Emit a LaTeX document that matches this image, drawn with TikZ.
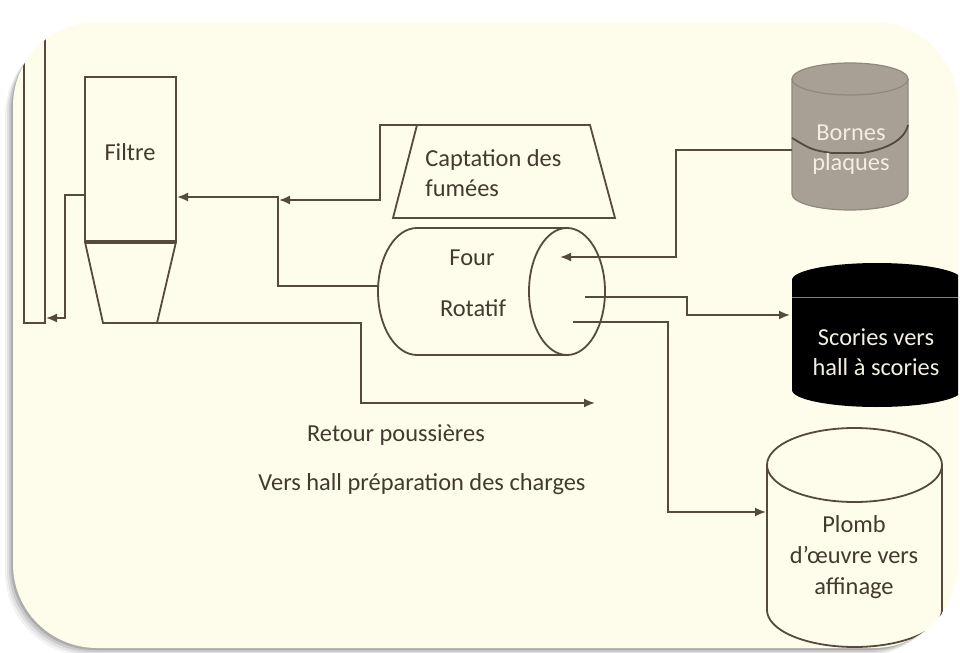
\documentclass[tikz,border=0pt]{standalone}
\usepackage{fontspec}
\setmainfont{Carlito}
\usetikzlibrary{arrows.meta}
\definecolor{c0}{RGB}{254,252,234}
\definecolor{c1}{RGB}{84,74,62}
\definecolor{c2}{RGB}{66,58,48}
\definecolor{c3}{RGB}{168,160,148}
\definecolor{c4}{RGB}{242,238,226}
\tikzset{%
  flow/.style={draw=c1,line width=0.9pt},
  arrow/.style={flow,-{Latex[length=5.5pt,width=4.5pt]}},
  txt/.style={text=c2,font=\fontsize{12.2}{15}\selectfont,inner sep=0pt,align=center}
}

\begin{document}
\begin{tikzpicture}[x=0.5pt,y=-0.5pt]
  \useasboundingbox (0,0) rectangle (960,653);
  % card
  \foreach \d/\o in {8/0.05,6/0.07,4/0.1,2/0.14}
    \fill[black,opacity=\o,rounded corners=42pt] ({13-\d},{24+\d}) rectangle ({956-\d},{648+\d});
  \fill[c0,rounded corners=42pt] (13,22) rectangle (958,648);
  \begin{scope}
  \clip[rounded corners=42pt] (13,22) rectangle (958,648);
  % cheminee
  \draw[flow] (24,30) -- (24,323) -- (45,323) -- (45,38);
  % filtre
  \draw[flow] (85,77) rectangle (176,242);
  \draw[flow] (85,242) -- (103,323) -- (157,323) -- (176,242);
  \draw[c1,line width=1.6pt] (85,242) -- (176,242);
  \node[txt] (filtre) at (130,152) {Filtre};
  \coordinate (filtre-w) at (85,195);
  \coordinate (filtre-e) at (177,197);
  \coordinate (chem-e) at (46,318);
  \coordinate (tremie-s) at (157,323);
  % captation
  \draw[flow,fill=c0] (417,125) -- (590,125) -- (615,218) -- (393,218) -- cycle;
  \node[txt,anchor=west,align=left] (capt) at (425,173) {Captation des\\fumées};
  \coordinate (capt-nw) at (417,125);
  \coordinate (capt-in) at (279,200);
  % four
  \draw[flow,fill=c0] (567,228) -- (417,228) arc[start angle=270,end angle=90,x radius=39,y radius=63.5] -- (567,355);
  \draw[flow,fill=c0] (567,291.5) ellipse[x radius=38,y radius=63.5];
  \node[txt] (four1) at (472,258) {Four};
  \node[txt] (four2) at (473,308) {Rotatif};
  \coordinate (four-w) at (378,286);
  \coordinate (four-in) at (560,257);
  \coordinate (four-o1) at (585,297);
  \coordinate (four-o2) at (573,322);
  % bornes
  \filldraw[fill=c3,draw=c3!85!black,line width=0.6pt] (792,79) -- (792,194)
    arc[start angle=180,end angle=0,x radius=58,y radius=16] -- (908,79)
    arc[start angle=0,end angle=-180,x radius=58,y radius=16] -- cycle;
  \draw[c3!85!black,line width=0.6pt] (792,79) arc[start angle=180,end angle=0,x radius=58,y radius=16];
  \draw[c1,line width=0.9pt] (792,138) .. controls (812,150) .. (832,153) -- (862,153)
    .. controls (895,148) and (906,135) .. (908,125);
  \node[txt,text=c4] (bornes) at (851,150) {Bornes\\plaques};
  \coordinate (bornes-w) at (792,150);
  % scories
  \fill[black] (792,280) -- (792,390)
    arc[start angle=180,end angle=0,x radius=85,y radius=17] -- (962,280)
    arc[start angle=0,end angle=-180,x radius=85,y radius=17] -- cycle;
  \draw[gray,line width=0.5pt] (792,297) -- (962,297);
  \node[txt,text=c4] (scories) at (876,352) {Scories vers\\hall à scories};
  \coordinate (scories-w) at (790,315);
  % plomb
  \filldraw[flow,fill=c0] (767,465) -- (767,610)
    arc[start angle=180,end angle=0,x radius=87.5,y radius=37] -- (942,465)
    arc[start angle=0,end angle=-180,x radius=87.5,y radius=37] -- cycle;
  \draw[flow] (767,465) arc[start angle=180,end angle=0,x radius=87.5,y radius=37];
  \node[txt,font=\fontsize{12.2}{15.5}\selectfont] (plomb) at (854,557) {Plomb\\d’œuvre vers\\affinage};
  \coordinate (plomb-w) at (766,512);
  % flux
  \draw[arrow] (filtre-w) -| (65,318) -- (chem-e);
  \draw[arrow] (four-w) -| (278,197) -- (filtre-e);
  \draw[arrow] (capt-nw) -| (380,200) -- (capt-in);
  \draw[arrow] (bornes-w) -| (676,257) -- (four-in);
  \draw[arrow] (four-o1) -| (687,315) -- (scories-w);
  \draw[arrow] (four-o2) -| (668,512) -- (plomb-w);
  \coordinate (retour) at (595,403);
  \draw[arrow] (tremie-s) -| (361,403) -- (retour);
  \node[txt] (retour-txt) at (396,435) {Retour poussières};
  \node[txt] (vers-txt) at (422,484) {Vers hall préparation des charges};
  \end{scope}
\end{tikzpicture}
\end{document}
